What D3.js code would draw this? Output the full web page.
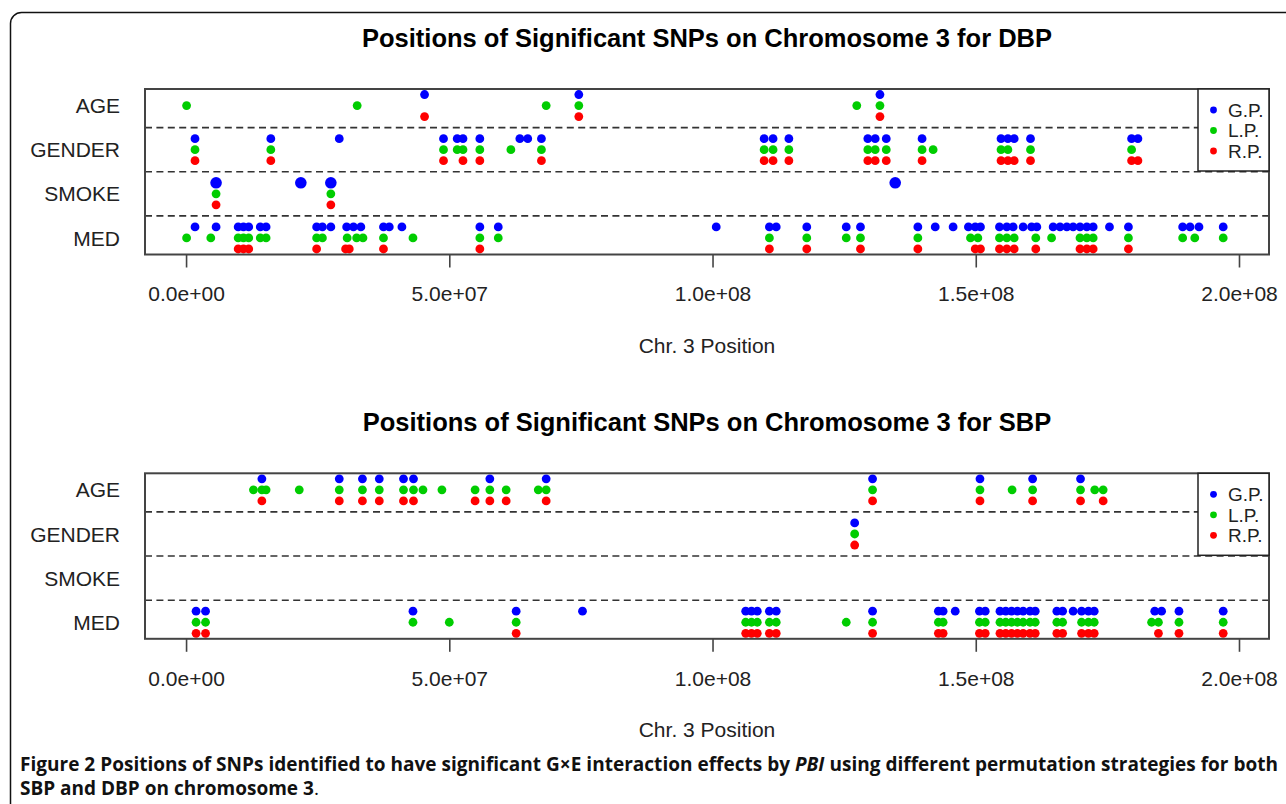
<!DOCTYPE html>
<html>
<head>
<meta charset="utf-8">
<script src="https://cdn.jsdelivr.net/npm/d3@7"></script>
<style>
  html, body { margin: 0; padding: 0; background: #fff; }
  svg { display: block; }
</style>
</head>
<body>
<svg id="chart" width="1286" height="804"></svg>
<script>
// ---------------- DATA (positions in Mb on chromosome 3) ----------------
const categories = ["MED", "SMOKE", "GENDER", "AGE"];
const strategies = ["G.P.", "L.P.", "R.P."];
const xTicks = [0, 5e7, 1e8, 1.5e8, 2e8];

// DBP
const dbpAgeGP = [45.3, 74.6, 131.8];
const dbpAgeLP = [0.1, 32.5, 68.4, 74.6, 127.4, 131.8];
const dbpAgeRP = [45.3, 74.6, 131.8];
const dbpGenderGP = [1.7, 16.1, 29.1, 48.9, 51.5, 52.6, 55.8, 63.4, 64.9, 67.5, 109.8, 111.5, 114.5, 129.5, 130.9, 133.0, 139.8, 154.8, 156.1, 157.3, 160.4, 179.6, 180.8];
const dbpGenderLP = [1.7, 16.1, 48.9, 51.5, 52.6, 55.8, 61.7, 67.5, 109.8, 111.5, 114.5, 129.5, 130.9, 133.0, 139.8, 141.9, 154.8, 156.1, 160.4, 179.6];
const dbpGenderRP = [1.7, 16.1, 48.9, 52.6, 55.8, 67.5, 109.8, 111.5, 114.5, 129.5, 130.9, 133.0, 139.8, 154.8, 156.1, 157.3, 160.4, 179.6, 180.8];
const dbpSmokeGP = [5.7, 21.8, 27.5, 134.7];
const dbpSmokeLP = [5.7, 27.5];
const dbpSmokeRP = [5.7, 27.5];
const dbpMedGP = [1.7, 5.7, 9.9, 10.9, 11.9, 14.1, 15.2, 24.8, 25.9, 27.5, 30.5, 31.8, 33.2, 37.5, 38.6, 41.0, 55.8, 59.3, 100.7, 110.8, 112.1, 117.9, 125.4, 128.1, 139.0, 142.3, 145.7, 148.6, 149.9, 150.9, 154.5, 155.9, 157.1, 159.0, 160.6, 161.6, 164.7, 166.0, 167.3, 168.5, 169.8, 171.1, 172.3, 175.4, 179.0, 189.3, 190.7, 192.4, 197.0];
const dbpMedLP = [0.1, 4.7, 9.9, 10.9, 11.9, 14.1, 15.2, 24.8, 25.9, 30.6, 32.4, 33.6, 37.5, 43.1, 55.8, 59.3, 110.8, 117.9, 125.4, 128.1, 139.0, 149.0, 150.4, 154.5, 155.9, 157.3, 161.4, 164.4, 169.8, 171.1, 172.3, 179.0, 189.3, 191.6, 197.0];
const dbpMedRP = [9.9, 10.9, 11.9, 24.8, 30.3, 31.0, 37.5, 55.8, 110.8, 117.9, 128.1, 139.0, 149.9, 150.9, 154.5, 155.9, 157.3, 161.4, 169.8, 171.1, 172.3, 179.0];

// SBP
const sbpAgeGP = [14.4, 29.1, 33.5, 36.7, 41.3, 43.2, 57.7, 68.4, 130.4, 150.8, 160.8, 169.9];
const sbpAgeLP = [12.8, 14.4, 15.2, 21.5, 29.1, 33.5, 36.7, 41.3, 43.2, 45.0, 48.6, 54.9, 57.7, 60.8, 66.9, 68.4, 130.4, 150.8, 156.9, 160.8, 169.9, 172.6, 174.2];
const sbpAgeRP = [14.4, 29.1, 33.5, 36.7, 41.3, 43.2, 54.9, 57.7, 60.8, 68.4, 130.4, 150.8, 160.8, 169.9, 174.2];
const sbpGenderGP = [127.0];
const sbpGenderLP = [127.0];
const sbpGenderRP = [127.0];
const sbpSmokeGP = [];
const sbpSmokeLP = [];
const sbpSmokeRP = [];
const sbpMedGP = [1.9, 3.7, 43.1, 62.7, 75.3, 106.3, 107.4, 108.5, 110.8, 112.1, 130.4, 142.9, 143.8, 146.1, 150.7, 151.8, 154.6, 155.7, 156.8, 157.9, 159.0, 160.3, 161.3, 165.4, 166.5, 168.5, 170.1, 171.4, 172.5, 184.0, 185.3, 188.6, 197.0];
const sbpMedLP = [1.9, 3.7, 43.1, 50.0, 62.7, 106.3, 107.4, 108.5, 110.8, 112.1, 125.4, 130.4, 142.9, 143.8, 150.7, 151.8, 154.6, 155.7, 156.8, 157.9, 159.0, 160.3, 161.3, 165.4, 166.5, 170.1, 171.4, 172.5, 183.4, 184.7, 188.6, 197.0];
const sbpMedRP = [1.9, 3.7, 62.7, 106.3, 107.4, 108.5, 110.8, 112.1, 130.4, 142.9, 143.8, 150.7, 151.8, 154.6, 155.7, 156.8, 157.9, 159.0, 160.3, 161.3, 165.4, 166.5, 170.1, 171.4, 172.5, 184.7, 188.6, 197.0];

const titles = ["Positions of Significant SNPs on Chromosome 3 for DBP",
                "Positions of Significant SNPs on Chromosome 3 for SBP"];
const xLabel = "Chr. 3 Position";

// ---------------- build tables ----------------
function table(rows) {
  const out = [];
  categories.forEach(cat => {
    rows[cat].forEach((arr, si) => {
      arr.forEach(v => out.push({cat, strat: strategies[si], pos: v * 1e6}));
    });
  });
  return out;
}
const dbpData = table({
  AGE: [dbpAgeGP, dbpAgeLP, dbpAgeRP],
  GENDER: [dbpGenderGP, dbpGenderLP, dbpGenderRP],
  SMOKE: [dbpSmokeGP, dbpSmokeLP, dbpSmokeRP],
  MED: [dbpMedGP, dbpMedLP, dbpMedRP]
});
const sbpData = table({
  AGE: [sbpAgeGP, sbpAgeLP, sbpAgeRP],
  GENDER: [sbpGenderGP, sbpGenderLP, sbpGenderRP],
  SMOKE: [sbpSmokeGP, sbpSmokeLP, sbpSmokeRP],
  MED: [sbpMedGP, sbpMedLP, sbpMedRP]
});

// ---------------- drawing ----------------
const svg = d3.select("#chart");
const FONT = "'Liberation Sans', Arial, Helvetica, sans-serif";
const colors = {"G.P.": "#0000ff", "L.P.": "#00cd00", "R.P.": "#ff0000"};
const offsets = {"G.P.": 0.25, "L.P.": 0, "R.P.": -0.25};

// figure frame
svg.append("rect")
  .attr("x", 10.5).attr("y", 12.5).attr("width", 1300).attr("height", 810)
  .attr("rx", 11).attr("ry", 11)
  .attr("fill", "none").attr("stroke", "#111").attr("stroke-width", 1.5);

const plotLeft = 145, plotRight = 1269, plotH = 165.5;
const x = d3.scaleLinear().domain([-7.8e6, 205.7e6]).range([plotLeft, plotRight]);
const fmt = v => d3.format(".1e")(v).replace(/e([+-])(\d)$/, "e$10$2");

function panel(data, top, title, bigSmokeGP) {
  const g = svg.append("g");
  const y = d3.scaleLinear().domain([0.625, 4.375]).range([top + plotH, top]);
  const catY = c => categories.indexOf(c) + 1;

  // title
  g.append("text")
    .attr("x", (plotLeft + plotRight) / 2).attr("y", top - 42)
    .attr("text-anchor", "middle")
    .attr("font-family", FONT).attr("font-weight", "bold").attr("font-size", 25.5)
    .attr("fill", "#000").text(title);

  // dashed separators
  g.selectAll(".sep").data([1.5, 2.5, 3.5]).join("line")
    .attr("x1", plotLeft).attr("x2", plotRight)
    .attr("y1", d => y(d)).attr("y2", d => y(d))
    .attr("stroke", "#333").attr("stroke-width", 1.6)
    .attr("stroke-dasharray", "7,4.4");

  // points
  g.selectAll(".pt").data(data).join("circle")
    .attr("cx", d => x(d.pos))
    .attr("cy", d => y(catY(d.cat) + offsets[d.strat]))
    .attr("r", d => (bigSmokeGP && d.cat === "SMOKE" && d.strat === "G.P.") ? 5.8 : 4.4)
    .attr("fill", d => colors[d.strat]);

  // y labels
  g.selectAll(".ylab").data(categories).join("text")
    .attr("x", 120).attr("y", d => y(catY(d)))
    .attr("dy", "0.36em")
    .attr("text-anchor", "end")
    .attr("font-family", FONT).attr("font-size", 21).attr("fill", "#222")
    .text(d => d);

  // x axis
  const axis = d3.axisBottom(x).tickValues(xTicks).tickFormat(fmt).tickSize(13).tickPadding(19);
  const ax = g.append("g").attr("transform", `translate(0,${top + plotH})`).call(axis);
  ax.select(".domain").remove();
  ax.selectAll(".tick line").attr("stroke", "#444").attr("stroke-width", 1.6);
  ax.selectAll(".tick text").attr("font-family", FONT).attr("font-size", 21).attr("fill", "#222");

  // x label
  g.append("text")
    .attr("x", (plotLeft + plotRight) / 2).attr("y", top + plotH + 98)
    .attr("text-anchor", "middle")
    .attr("font-family", FONT).attr("font-size", 21).attr("fill", "#222")
    .text(xLabel);

  // box
  g.append("rect")
    .attr("x", plotLeft).attr("y", top).attr("width", plotRight - plotLeft).attr("height", plotH)
    .attr("fill", "none").attr("stroke", "#444").attr("stroke-width", 2);

  // legend
  const lg = g.append("g");
  lg.append("rect")
    .attr("x", 1198).attr("y", top).attr("width", plotRight - 1198).attr("height", 82)
    .attr("fill", "#fff").attr("stroke", "#222").attr("stroke-width", 1.5);
  strategies.forEach((s, i) => {
    const yy = top + 21 + i * 20.5;
    lg.append("circle").attr("cx", 1213.5).attr("cy", yy).attr("r", 3.4).attr("fill", colors[s]);
    lg.append("text").attr("x", 1228).attr("y", yy).attr("dy", "0.36em")
      .attr("font-family", FONT).attr("font-size", 19).attr("fill", "#222").text(s);
  });
}

panel(dbpData, 89, titles[0], true);
panel(sbpData, 473.3, titles[1], false);

// caption
const CAP_FONT = "'Open Sans', 'Noto Sans', sans-serif";
const cap1 = svg.append("text").attr("x", 20).attr("y", 771)
  .attr("font-family", CAP_FONT).attr("font-size", 17).attr("fill", "#111").attr("font-weight", "bold");
cap1.append("tspan").text("Figure 2 Positions of SNPs identified to have significant G×E interaction effects by ");
cap1.append("tspan").attr("font-style", "italic").text("PBI");
cap1.append("tspan").text(" using different permutation strategies for both");
const cap2 = svg.append("text").attr("x", 20).attr("y", 795)
  .attr("font-family", CAP_FONT).attr("font-size", 17).attr("fill", "#111");
cap2.append("tspan").attr("font-weight", "bold").text("SBP and DBP on chromosome 3");
cap2.append("tspan").text(".");
// fit line 1 to the column width (justified)
const w1 = cap1.node().getComputedTextLength();
const fs = 17 * 1258 / w1;
const cfs = Math.min(fs, 19);
cap1.attr("font-size", cfs);
cap2.attr("font-size", cfs);
const w1b = cap1.node().getComputedTextLength();
if (w1b < 1258) {
  const nChars = cap1.text().length;
  cap1.attr("letter-spacing", (1258 - w1b) / nChars);
}
</script>
</body>
</html>
